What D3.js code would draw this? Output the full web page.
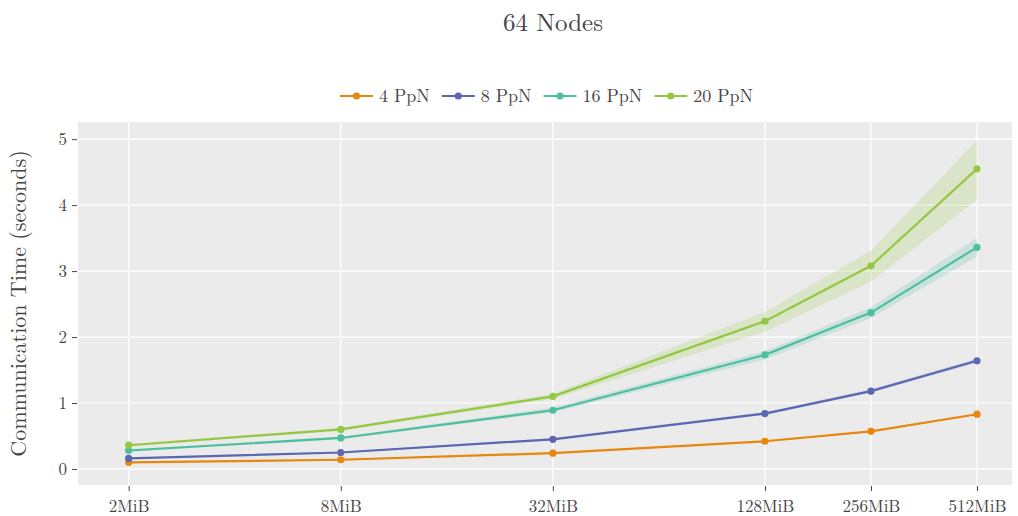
<!DOCTYPE html>
<html>
<head>
<meta charset="utf-8">
<script src="https://cdn.jsdelivr.net/npm/d3@7"></script>
<style>
  body { margin: 0; background: #fff; }
  svg text { font-family: "Latin Modern Roman", "CMU Serif", "Liberation Serif", serif; fill: #444; }
</style>
</head>
<body>
<svg id="chart" width="1018" height="516"></svg>
<script>
// ---- data ----
var sizes = [2, 8, 32, 128, 256, 512];            // MiB
var sizeLabels = ["2MiB", "8MiB", "32MiB", "128MiB", "256MiB", "512MiB"];
var seriesNames = ["4 PpN", "8 PpN", "16 PpN", "20 PpN"];
var seriesColors = ["#e8870e", "#5c67b3", "#4dbf9f", "#94c843"];

var time4  = [0.10, 0.14, 0.24, 0.42, 0.57, 0.83];
var time8  = [0.16, 0.25, 0.45, 0.84, 1.18, 1.64];
var time16 = [0.28, 0.47, 0.89, 1.73, 2.37, 3.36];
var time20 = [0.36, 0.60, 1.10, 2.24, 3.08, 4.55];

var upper4  = [0.11, 0.15, 0.25, 0.43, 0.58, 0.84];
var lower4  = [0.09, 0.13, 0.23, 0.41, 0.56, 0.82];
var upper8  = [0.17, 0.26, 0.47, 0.86, 1.21, 1.67];
var lower8  = [0.15, 0.24, 0.44, 0.82, 1.16, 1.61];
var upper16 = [0.30, 0.49, 0.93, 1.79, 2.45, 3.50];
var lower16 = [0.26, 0.45, 0.86, 1.66, 2.29, 3.22];
var upper20 = [0.38, 0.62, 1.14, 2.38, 3.31, 4.98];
var lower20 = [0.34, 0.58, 1.06, 2.08, 2.84, 4.08];

var yTicks = [0, 1, 2, 3, 4, 5];

var series = [
    {name: seriesNames[0], color: seriesColors[0], vals: time4,  hi: upper4,  lo: lower4},
    {name: seriesNames[1], color: seriesColors[1], vals: time8,  hi: upper8,  lo: lower8},
    {name: seriesNames[2], color: seriesColors[2], vals: time16, hi: upper16, lo: lower16},
    {name: seriesNames[3], color: seriesColors[3], vals: time20, hi: upper20, lo: lower20}
];

// ---- layout ----
var plotLeft = 78, plotRight = 1012, plotTop = 122, plotBottom = 485;
var svg = d3.select("#chart");

var x = d3.scaleLog().base(2).domain([Math.pow(2, 0.522), Math.pow(2, 9.33)]).range([plotLeft, plotRight]);
var y = d3.scaleLinear().domain([-0.243, 5.26]).range([plotBottom, plotTop]);

svg.append("rect")
    .attr("x", plotLeft).attr("y", plotTop)
    .attr("width", plotRight - plotLeft).attr("height", plotBottom - plotTop)
    .attr("fill", "#ebebeb");

// grid
svg.append("g").selectAll("line").data(yTicks).join("line")
    .attr("x1", plotLeft).attr("x2", plotRight)
    .attr("y1", d => y(d)).attr("y2", d => y(d))
    .attr("stroke", "#fff").attr("stroke-width", 1.2);
svg.append("g").selectAll("line").data(sizes).join("line")
    .attr("y1", plotTop).attr("y2", plotBottom)
    .attr("x1", d => x(d)).attr("x2", d => x(d))
    .attr("stroke", "#fff").attr("stroke-width", 1.2);

// axes
var xAxis = svg.append("g")
    .attr("transform", "translate(0," + (plotBottom + 1) + ")")
    .call(d3.axisBottom(x).tickValues(sizes).tickFormat((d, i) => sizeLabels[i]).tickSize(5).tickPadding(9));
var yAxis = svg.append("g")
    .attr("transform", "translate(" + (plotLeft - 1) + ",0)")
    .call(d3.axisLeft(y).tickValues(yTicks).tickFormat(d3.format("d")).tickSize(5).tickPadding(5));
[xAxis, yAxis].forEach(function(a) {
    a.select(".domain").remove();
    a.selectAll(".tick line").attr("stroke", "#444");
    a.selectAll(".tick text").style("font-size", "17px").attr("fill", "#444")
        .style("font-family", null);
});

// bands, lines, markers
var area = d3.area()
    .x((d, i) => x(sizes[i]))
    .y0(d => y(d[0])).y1(d => y(d[1]));
var line = d3.line().x((d, i) => x(sizes[i])).y(d => y(d));

series.forEach(function(s) {
    svg.append("path")
        .datum(s.lo.map((v, i) => [v, s.hi[i]]))
        .attr("d", area)
        .attr("fill", s.color).attr("fill-opacity", 0.2);
});
series.forEach(function(s) {
    svg.append("path")
        .datum(s.vals)
        .attr("d", line)
        .attr("fill", "none").attr("stroke", s.color).attr("stroke-width", 2.2);
    svg.append("g").selectAll("circle").data(s.vals).join("circle")
        .attr("cx", (d, i) => x(sizes[i])).attr("cy", d => y(d))
        .attr("r", 3.6).attr("fill", s.color);
});

// title
svg.append("text")
    .attr("x", 553).attr("y", 31)
    .attr("text-anchor", "middle")
    .style("font-size", "25px")
    .text("64 Nodes");

// y axis title
svg.append("text")
    .attr("transform", "translate(26," + ((plotTop + plotBottom) / 2) + ") rotate(-90)")
    .attr("text-anchor", "middle")
    .style("font-size", "22px")
    .text("Communication Time (seconds)");

// legend
var legend = svg.append("g");
var lx = 340, ly = 96;
series.forEach(function(s) {
    var item = legend.append("g").attr("transform", "translate(" + lx + "," + ly + ")");
    item.append("line").attr("x1", 0).attr("x2", 33).attr("y1", 0).attr("y2", 0)
        .attr("stroke", s.color).attr("stroke-width", 2.2);
    item.append("circle").attr("cx", 16.5).attr("cy", 0).attr("r", 3.6).attr("fill", s.color);
    var t = item.append("text").attr("x", 39).attr("y", 6)
        .style("font-size", "18px").text(s.name);
    lx += 39 + t.node().getComputedTextLength() + 12;
});
</script>
</body>
</html>
